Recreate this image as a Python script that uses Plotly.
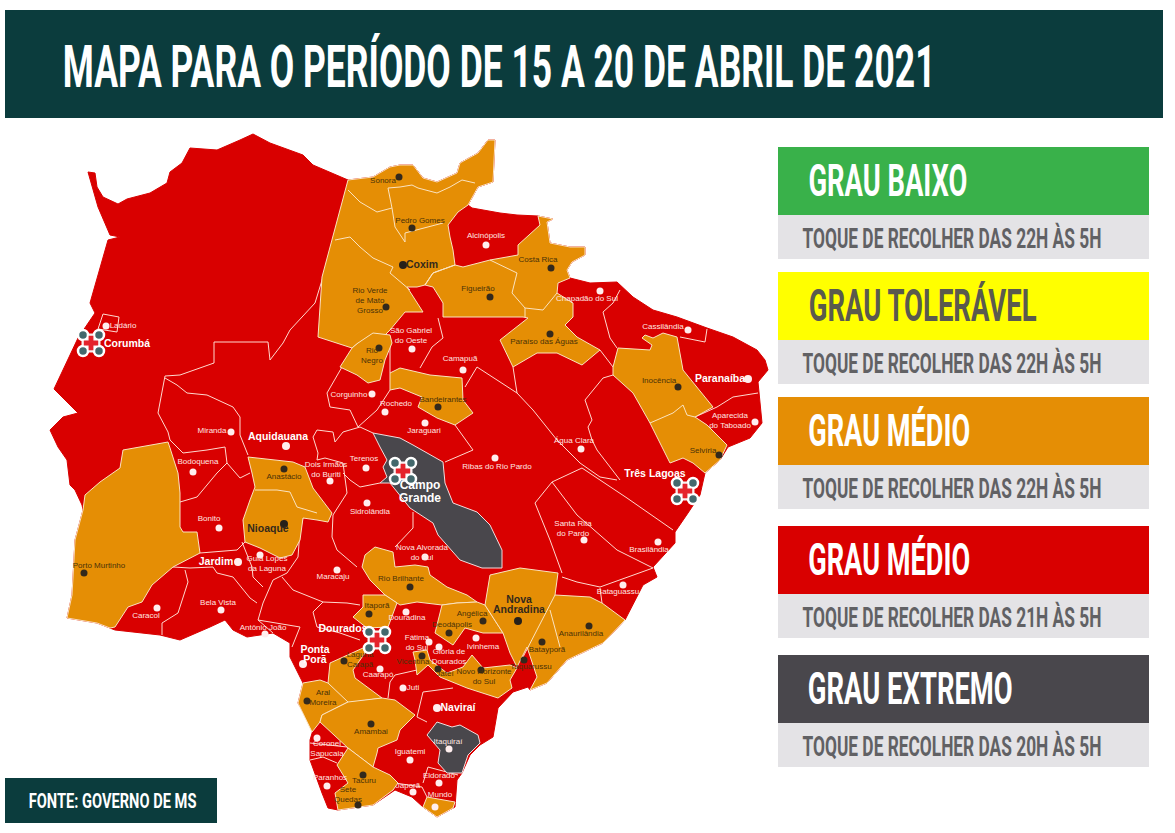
import json
import plotly.graph_objects as go

# map outlines (x, y in picture pixels)
state_outline = [(88,172),(95,173),(97,187),(103,197),(118,204),(127,199),(150,193),(167,183),(170,172),(182,163),(190,148),
    (217,150),(240,140),(253,134),(270,143),(303,155),(313,165),(348,180),(373,177),(390,167),(400,165),(413,165),(423,178),
    (437,182),(457,173),(460,163),(478,153),(488,140),(495,140),(493,182),(478,187),(468,205),(472,208),(500,213),(517,215),
    (538,216),(553,219),(547,222),(550,243),(570,247),(585,247),(585,255),(572,262),(567,270),(570,278),(590,283),(617,282),
    (633,297),(653,310),(677,317),(707,328),(733,337),(757,350),(765,360),(768,370),(758,382),(762,423),(750,438),(728,447),
    (720,460),(705,473),(700,495),(688,513),(675,532),(675,543),(653,567),(657,577),(643,585),(625,620),(603,643),(567,660),
    (547,683),(530,690),(528,687),(513,692),(498,708),(493,737),(480,745),(470,755),(462,773),(457,780),(455,807),(437,817),
    (423,807),(412,797),(395,790),(373,805),(338,810),(328,808),(322,793),(310,760),(310,740),(313,730),(298,703),(303,683),
    (290,657),(290,643),(273,633),(247,637),(233,630),(225,620),(210,627),(180,640),(160,635),(115,630),(110,628),(97,623),
    (67,618),(72,595),(73,577),(75,540),(83,510),(82,505),(75,490),(70,485),(67,460),(58,447),(50,430),(63,417),(78,413),
    (54,389),(78,338),(95,313),(90,303),(108,240),(120,237),(110,235),(98,207),(92,185)]

orange_north = [(348,180),(373,177),(390,167),(400,165),(413,165),(423,178),(437,182),(457,173),(460,163),(478,153),(488,140),
    (495,140),(493,182),(478,187),(468,205),(458,212),(448,225),(450,237),(453,250),(455,265),(433,273),(425,285),(417,287),
    (407,287),(423,312),(405,312),(390,330),(383,337),(358,343),(352,348),(318,337),(322,277)]
orange_rio_negro = [(358,343),(373,333),(390,335),(392,343),(385,360),(380,380),(368,383),(357,375),(340,367),(352,348)]
orange_figueirao = [(455,265),(463,267),(490,260),(518,255),(518,245),(527,237),(540,225),(538,216),(553,219),(547,222),
    (550,243),(570,247),(585,247),(585,255),(572,262),(567,270),(570,278),(558,283),(557,293),(573,303),(573,317),(565,325),
    (577,337),(600,350),(582,365),(557,353),(537,353),(513,367),(500,340),(528,318),(523,317),(443,317),(443,303),(433,287),
    (425,285),(433,273)]
orange_inocencia = [(613,367),(618,348),(650,350),(652,345),(642,338),(645,335),(653,338),(663,333),(677,337),(683,370),
    (713,407),(695,417),(707,425),(727,445),(720,460),(705,473),(693,463),(683,458),(670,463),(650,423),(633,393),(613,375)]
orange_bandeirantes = [(390,373),(400,368),(430,375),(462,378),(463,400),(473,413),(455,425),(437,418),(418,407),(422,397),
    (400,388),(390,390)]
orange_porto_murtinho = [(123,450),(168,442),(170,448),(178,473),(180,493),(180,527),(183,532),(197,532),(200,553),(173,567),
    (152,585),(142,602),(128,607),(115,627),(110,628),(97,623),(67,618),(72,595),(73,577),(75,540),(83,510),(85,495),(100,482),
    (120,468)]
orange_nioaque = [(248,457),(293,462),(305,467),(313,488),(332,513),(328,522),(317,520),(303,518),(300,540),(292,555),(280,558),
    (260,548),(245,542),(243,520),(250,500),(255,487),(252,473)]
orange_rio_brilhante = [(375,547),(393,552),(395,567),(415,565),(428,567),(430,575),(447,587),(467,595),(477,602),(457,603),
    (442,605),(417,602),(400,605),(385,595),(370,580),(362,567),(365,555)]
orange_itapora = [(363,595),(385,595),(397,603),(392,617),(388,627),(367,628),(353,617),(363,607)]
orange_angelica = [(442,605),(457,603),(477,602),(485,605),(503,633),(483,633),(465,628),(453,645),(435,633)]
orange_nova_andradina = [(490,575),(520,568),(558,573),(555,595),(590,597),(602,603),(625,620),(603,643),(567,660),(547,683),
    (530,690),(537,677),(527,647),(517,667),(510,653),(503,633),(485,605)]
orange_jatei = [(413,652),(427,650),(430,660),(447,673),(463,667),(472,655),(483,668),(510,665),(517,668),(510,680),(512,688),
    (498,698),(467,688),(440,677),(428,665),(417,675),(415,660)]
orange_laguna = [(330,663),(352,653),(363,648),(365,653),(353,670),(355,678),(382,698),(347,703),(328,683)]
orange_aral = [(320,680),(328,683),(348,702),(322,715),(320,722),(312,732),(298,703),(303,683)]
orange_amambai = [(322,715),(348,702),(382,698),(395,700),(415,715),(400,730),(397,740),(378,748),(377,753),(373,767),(348,748),
    (320,722)]
orange_tacuru = [(348,748),(373,767),(390,775),(398,783),(393,790),(373,805),(338,810),(335,793),(348,783),(337,765)]
orange_mundo_novo = [(427,797),(455,802),(453,808),(437,817),(423,807)]

gray_campo_grande = [(373,433),(400,438),(413,445),(443,462),(445,483),(453,503),(477,512),(490,525),(502,550),(502,568),(482,568),
    (460,560),(438,535),(433,523),(410,508),(390,483),(380,483),(387,477),(383,467),(387,460),(380,447)]
gray_itaquirai = [(427,735),(437,722),(452,727),(460,725),(478,735),(480,743),(468,755),(462,773),(447,773),(438,763),(440,750)]

# municipal borders on the red
red_borders = [
    [(323,277),(315,303),(290,330),(283,343),(270,360),(268,342),(214,342),(214,363),(180,375),(165,376),(158,413),(168,432),(170,440)],
    [(165,378),(177,385),(187,393),(207,395),(233,407),(240,417),(240,435),(248,455)],
    [(103,314),(119,317),(117,332),(98,329),(103,314)],
    [(170,440),(183,453),(207,450),(225,447),(227,463),(217,473),(197,497),(180,502)],
    [(227,463),(240,478),(250,473)],
    [(245,542),(237,550),(200,553)],
    [(173,567),(190,568),(213,567),(217,573),(233,577),(250,598),(257,603)],
    [(185,570),(188,582),(178,613),(162,623),(162,635)],
    [(242,542),(252,567),(253,577),(263,587)],
    [(303,518),(300,530),(298,557),(287,573),(273,580),(263,603),(258,620),(273,633)],
    [(282,577),(293,590),(323,602),(347,603),(360,605)],
    [(258,620),(300,627),(292,647)],
    [(323,602),(313,612),(317,627),(340,633),(360,640)],
    [(317,430),(333,432),(335,442),(343,432),(360,427),(373,433)],
    [(317,430),(313,437),(318,453),(317,460),(325,458),(343,463),(347,493),(333,515),(332,537),(337,550),(357,567)],
    [(343,473),(350,480),(360,487),(380,483)],
    [(413,512),(413,528),(395,547)],
    [(342,367),(327,393),(330,407),(350,410),(358,427),(377,410),(390,390)],
    [(390,345),(390,373)],
    [(438,318),(443,338),(432,347),(420,368)],
    [(465,387),(477,367),(517,393),(515,377),(513,367)],
    [(517,393),(533,410),(557,440),(580,463),(600,477),(617,480)],
    [(455,425),(473,450),(445,462)],
    [(620,290),(613,303),(603,312),(610,338),(617,348)],
    [(600,350),(613,367)],
    [(707,329),(705,342),(680,337)],
    [(613,375),(603,378),(585,400),(592,420),(588,427),(592,440),(597,450),(620,480)],
    [(582,468),(552,482),(535,503),(550,540),(562,573)],
    [(582,468),(627,498),(673,530)],
    [(552,482),(577,515),(617,550),(653,568)],
    [(562,577),(577,582),(600,587),(628,577),(653,568)],
    [(600,588),(602,603)],
    [(695,417),(717,407),(733,397),(758,393)],
    [(390,682),(395,675),(417,670)],
    [(390,682),(388,698)],
    [(423,692),(417,717),(427,722)],
    [(423,692),(453,688)],
    [(310,760),(323,757),(337,763)],
    [(310,743),(347,747)],
    [(423,783),(428,767),(458,775)],
    [(395,783),(422,787),(427,797)],
]
# borders inside the orange areas
orange_borders = [
    [(348,190),(360,202),(377,212),(392,208)],
    [(388,188),(400,187),(412,185),(418,188),(437,193),(450,187),(462,180),(475,183)],
    [(388,188),(392,208),(395,227),(405,242),(405,233),(443,223)],
    [(335,240),(350,237),(360,247),(373,258),(393,267),(390,273),(410,290)],
    [(425,285),(433,273),(455,265)],
    [(490,260),(517,273),(512,293),(525,308),(525,317)],
    [(525,308),(543,310),(557,293)],
    [(650,423),(673,413),(683,405),(687,415),(695,417)],
    [(255,490),(277,490),(290,492),(297,507),(317,513)],
    [(555,595),(523,657)],
    [(550,610),(560,647)],
]

# towns: name, label x, label y, dot x, dot y
white_towns = [
    ("Alcinópolis",486,236,486,245), ("Chapadão do Sul",587,299,600,291), ("Cassilândia",663,327,688,330),
    ("São Gabriel<br>do Oeste",411,336,412,349), ("Camapuã",460,359,463,370), ("Corguinho",349,395,372,394),
    ("Rochedo",396,404,385,412), ("Jaraguari",424,431,425,423), ("Aparecida<br>do Taboado",730,421,755,422),
    ("Água Clara",574,441,581,449), ("Ribas do Rio Pardo",497,467,495,458), ("Miranda",212,431,231,432),
    ("Ladário",123,326,106,326), ("Bodoquena",198,462,193,472), ("Dois Irmãos<br>do Buriti",326,470,330,481),
    ("Terenos",364,459,366,468), ("Bonito",209,519,219,528), ("Guia Lopes<br>da Laguna",267,564,260,555),
    ("Maracaju",333,577,337,570), ("Caracol",146,616,157,608), ("Bela Vista",218,603,221,610),
    ("Antônio João",263,628,265,634), ("Sidrolândia",370,512,367,503), ("Nova Alvorada<br>do Sul",422,553,425,557),
    ("Santa Rita<br>do Pardo",573,529,584,540), ("Brasilândia",649,550,658,542), ("Bataguassu",618,592,623,585),
    ("Douradina",407,618,406,612), ("Ivinhema",483,647,476,638), ("Fátima<br>do Sul",417,643,429,642),
    ("Glória de<br>Dourados",449,657,439,647), ("Caarapó",378,675,380,669), ("Juti",413,688,403,688),
    ("Itaquiraí",448,742,449,749), ("Coronel<br>Sapucaia",327,749,317,738), ("Iguatemi",410,752,410,760),
    ("Paranhos",330,778,327,786), ("Eldorado",439,776,439,783), ("Japorã",408,786,413,792), ("Mundo",440,795,435,807),
]
dark_towns = [
    ("Sonora",383,181,399,177), ("Pedro Gomes",420,221,412,228), ("Costa Rica",538,260,551,268),
    ("Figueirão",478,289,490,297), ("Rio Verde<br>de Mato<br>Grosso",370,301,386,307), ("Paraíso das Águas",544,342,550,334),
    ("Rio<br>Negro",372,356,379,348), ("Bandeirantes",443,400,438,407), ("Inocência",659,381,678,387),
    ("Selvíria",703,451,719,455), ("Anastácio",284,477,284,469), ("Porto Murtinho",99,566,84,573),
    ("Rio Brilhante",401,579,410,587), ("Itaporã",377,606,369,614), ("Angélica",472,614,483,621),
    ("Deodápolis",452,625,449,633), ("Anaurilândia",581,634,589,626), ("Batayporã",547,650,542,642),
    ("Taquarussu",531,667,524,660), ("Vicentina",413,662,422,656), ("Jateí",445,674,438,669),
    ("Novo Horizonte<br>do Sul",484,677,481,670), ("Laguna<br>Carapã",360,660,344,661), ("Aral<br>Moreira",323,698,307,701),
    ("Amambai",371,732,371,724), ("Tacuru",364,781,363,775), ("Sete<br>Quedas",348,795,358,805),
]
big_white_towns = [
    ("Corumbá",127,344,None,None), ("Aquidauana",278,437,286,446), ("Paranaíba",720,379,748,379),
    ("Três Lagoas",655,474,None,None), ("Jardim",216,562,238,562), ("Dourados",343,629,None,None),
    ("Ponta",315,650,None,None), ("Porã",315,660,303,664), ("Naviraí",458,708,437,708),
]
big_dark_towns = [("Coxim",422,265,403,265), ("Nova",519,600,None,None), ("Andradina",519,610,518,621), ("Nioaque",268,529,284,524)]
campo_grande_lines = [("Campo",420,486,None,None), ("Grande",420,499,None,None)]

icon_names = ["Corumbá", "Campo Grande", "Três Lagoas", "Dourados"]
icon_x = [91, 403, 685, 377]
icon_y = [343, 471, 491, 640]

# right hand key
level_names = ["GRAU BAIXO", "GRAU TOLERÁVEL", "GRAU MÉDIO", "GRAU MÉDIO", "GRAU EXTREMO"]
level_name_widths = [159, 228, 162, 162, 205]
level_curfew = ["TOQUE DE RECOLHER DAS 22H ÀS 5H", "TOQUE DE RECOLHER DAS 22H ÀS 5H", "TOQUE DE RECOLHER DAS 22H ÀS 5H",
                "TOQUE DE RECOLHER DAS 21H ÀS 5H", "TOQUE DE RECOLHER DAS 20H ÀS 5H"]
level_colors = ["#39b14a", "#ffff00", "#e58e05", "#d90000", "#49474c"]
level_text_colors = ["#ffffff", "#5a5a4e", "#ffffff", "#ffffff", "#ffffff"]
level_top = [147, 272, 397, 526, 655]

title_text = "MAPA PARA O PERÍODO DE 15 A 20 DE ABRIL DE 2021"
source_text = "FONTE: GOVERNO DE MS"

RED = "#d90000"
ORANGE = "#e58e05"
GRAY = "#49474c"
TEAL = "#0b3c3d"
BORDER = "#ffd9cf"
HEAD = "Roboto"

fig = go.Figure()


def add_area(points, color, line_color="#fbe3c0", width=1):
    xs = [p[0] for p in points] + [points[0][0]]
    ys = [p[1] for p in points] + [points[0][1]]
    fig.add_trace(go.Scatter(x=xs, y=ys, mode="lines", fill="toself", fillcolor=color,
                             line=dict(color=line_color, width=width), hoverinfo="skip"))


def add_lines(lines, color):
    for line in lines:
        fig.add_trace(go.Scatter(x=[p[0] for p in line], y=[p[1] for p in line], mode="lines",
                                 line=dict(color=color, width=1), hoverinfo="skip"))


add_area(state_outline, RED, line_color=RED)
add_lines(red_borders, BORDER)

for area in [orange_north, orange_rio_negro, orange_figueirao, orange_inocencia, orange_bandeirantes,
             orange_porto_murtinho, orange_nioaque, orange_rio_brilhante, orange_itapora, orange_angelica,
             orange_nova_andradina, orange_jatei, orange_laguna, orange_aral, orange_amambai, orange_tacuru,
             orange_mundo_novo]:
    add_area(area, ORANGE)
for area in [gray_campo_grande, gray_itaquirai]:
    add_area(area, GRAY, line_color="#f2dcdc")

add_lines(orange_borders, "#fbe3c0")


def add_towns(rows, text_color, dot_color, size, bold=False):
    dots = [r for r in rows if r[3] is not None]
    fig.add_trace(go.Scatter(x=[r[3] for r in dots], y=[r[4] for r in dots], mode="markers",
                             marker=dict(size=7 if not bold else 8, color=dot_color), hoverinfo="skip"))
    labels = [f"<b>{r[0]}</b>" if bold else r[0] for r in rows]
    fig.add_trace(go.Scatter(x=[r[1] for r in rows], y=[r[2] for r in rows], mode="text", text=labels,
                             textposition="middle center", hoverinfo="skip",
                             textfont=dict(family="Liberation Sans", size=size, color=text_color)))


add_towns(white_towns, "#ffe6e0", "#ffeeee", 8)
add_towns(dark_towns, "#4a3208", "#33291c", 8)
add_towns(big_white_towns, "#ffffff", "#ffeeee", 10.5, bold=True)
add_towns(big_dark_towns, "#33291c", "#26201a", 10.5, bold=True)
add_towns(campo_grande_lines, "#ffffff", "#ffffff", 12, bold=True)

# the four cross-shaped city icons
ARM = 8
for cx, cy in zip(icon_x, icon_y):
    fig.add_trace(go.Scatter(x=[cx], y=[cy], mode="markers", hoverinfo="skip",
                             marker=dict(size=19, symbol="square", color="#f8f0f0")))
    fig.add_trace(go.Scatter(x=[cx - ARM, cx + ARM, cx - ARM, cx + ARM], y=[cy - ARM, cy - ARM, cy + ARM, cy + ARM],
                             mode="markers", hoverinfo="skip",
                             marker=dict(size=10, color="#43686c", line=dict(color="#ffffff", width=2.5))))
    fig.add_trace(go.Scatter(x=[cx], y=[cy], mode="markers", hoverinfo="skip",
                             marker=dict(size=12, symbol="cross", color="#e5232b")))

shapes = [
    dict(type="rect", x0=5, x1=1163, y0=10, y1=118, fillcolor=TEAL, line_width=0, layer="below"),
    dict(type="rect", x0=5, x1=217, y0=778, y1=823, fillcolor=TEAL, line_width=0, layer="below"),
]
annotations = [
    dict(x=(62 + 935) / 2, y=66, text=title_text, xanchor="center", yanchor="middle", showarrow=False,
         font=dict(family=HEAD, size=59, weight=700, color="#ffffff")),
    dict(x=(28 + 196) / 2, y=801, text=source_text, xanchor="center", yanchor="middle", showarrow=False,
         font=dict(family=HEAD, size=20, weight=700, color="#ffffff")),
]
# the reference face is much narrower than anything installed, so widths get squeezed in the page
text_widths = {title_text: 873, source_text: 168}
for name, name_w, curfew, color, text_color, top in zip(level_names, level_name_widths, level_curfew, level_colors,
                                                        level_text_colors, level_top):
    shapes.append(dict(type="rect", x0=778, x1=1149, y0=top, y1=top + 68, fillcolor=color, line_width=0, layer="below"))
    shapes.append(dict(type="rect", x0=778, x1=1149, y0=top + 68, y1=top + 112, fillcolor="#e4e3e6", line_width=0, layer="below"))
    annotations.append(dict(x=808 + name_w / 2, y=top + 33, text=name, xanchor="center", yanchor="middle", showarrow=False,
                            font=dict(family=HEAD, size=45, weight=700, color=text_color)))
    annotations.append(dict(x=802 + 299 / 2, y=top + 91, text=curfew, xanchor="center", yanchor="middle", showarrow=False,
                            font=dict(family=HEAD, size=27, weight=700, color="#616164")))
    text_widths[name] = name_w
    text_widths[curfew] = 299

fig.update_layout(
    width=1175, height=833, margin=dict(l=0, r=0, t=0, b=0), showlegend=False,
    paper_bgcolor="#ffffff", plot_bgcolor="#ffffff", shapes=shapes, annotations=annotations,
    xaxis=dict(range=[0, 1175], visible=False, fixedrange=True),
    yaxis=dict(range=[833, 0], visible=False, fixedrange=True),
)
squeeze = """
document.body.style.margin = '0';
var widths = %s;
document.querySelectorAll('.annotation-text').forEach(function (t) {
  var w = widths[t.textContent];
  if (!w) return;
  var b = t.getBBox(), cx = b.x + b.width / 2;
  t.setAttribute('transform', 'translate(' + cx + ',0) scale(' + (w / b.width) + ',1) translate(' + (-cx) + ',0)');
});
""" % json.dumps(text_widths, ensure_ascii=False)
fig.write_html("out.html", post_script=squeeze, config=dict(displayModeBar=False))
